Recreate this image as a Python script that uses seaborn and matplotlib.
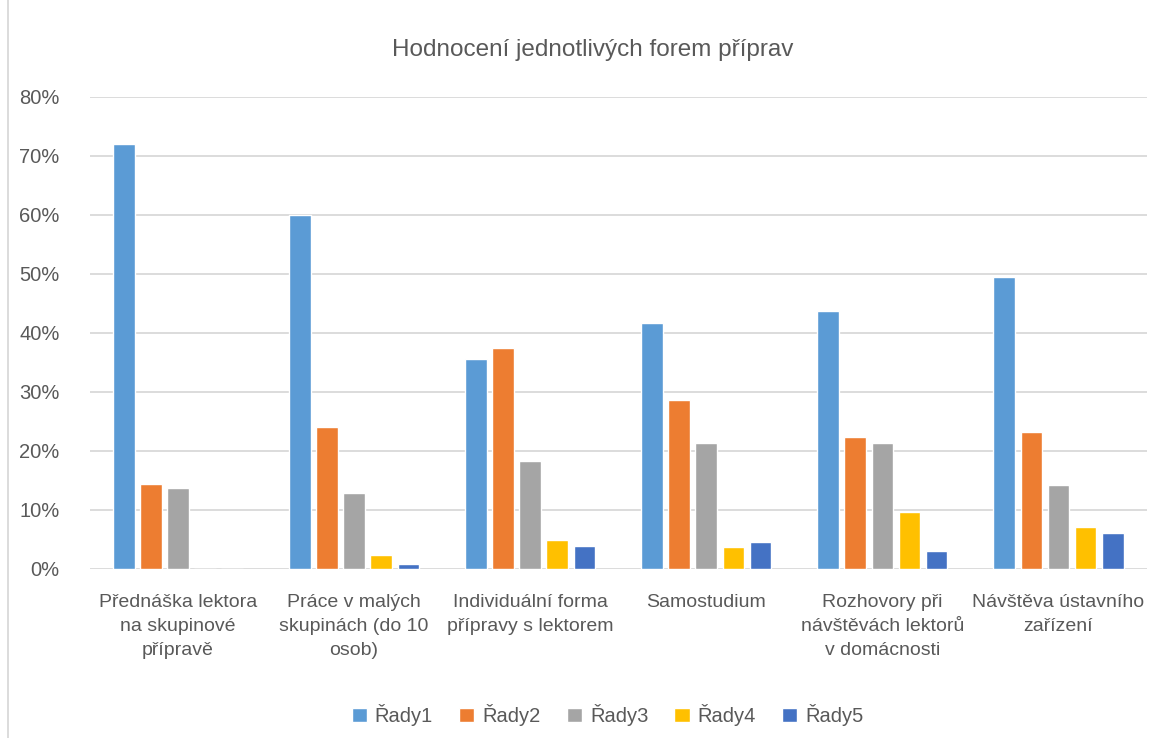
import matplotlib
matplotlib.use("Agg")
import matplotlib.pyplot as plt
from matplotlib.ticker import PercentFormatter
from matplotlib.patches import Rectangle
import pandas as pd
import seaborn as sns

categories = [
    "Přednáška lektora\nna skupinové\npřípravě",
    "Práce v malých\nskupinách (do 10\nosob)",
    "Individuální forma\npřípravy s lektorem",
    "Samostudium",
    "Rozhovory při\nnávštěvách lektorů\nv domácnosti",
    "Návštěva ústavního\nzařízení",
]
series_names = ["Řady1", "Řady2", "Řady3", "Řady4", "Řady5"]
rady1 = [0.720, 0.600, 0.356, 0.417, 0.437, 0.495]
rady2 = [0.144, 0.240, 0.375, 0.287, 0.224, 0.232]
rady3 = [0.137, 0.128, 0.183, 0.214, 0.214, 0.142]
rady4 = [0.0, 0.024, 0.049, 0.037, 0.097, 0.071]
rady5 = [0.0, 0.008, 0.039, 0.046, 0.030, 0.061]
colors = ["#5B9BD5", "#ED7D31", "#A5A5A5", "#FFC000", "#4472C4"]

rows = []
for name, vals in zip(series_names, [rady1, rady2, rady3, rady4, rady5]):
    for cat, v in zip(categories, vals):
        rows.append({"kategorie": cat, "rada": name, "hodnota": v})
df = pd.DataFrame(rows)

sns.set_theme(style="white")
plt.rcParams["font.family"] = ["Liberation Sans", "DejaVu Sans"]
text_col = "#595959"

fig = plt.figure(figsize=(11.64, 7.38), dpi=100)
ax = fig.add_axes([0.0773, 0.229, 0.9077, 0.6396])

sns.barplot(data=df, x="kategorie", y="hodnota", hue="rada", palette=colors,
            order=categories, hue_order=series_names, width=0.77, gap=0.2,
            saturation=1, ax=ax, legend=True)

ax.set_ylim(0, 0.8)
ax.set_yticks([i / 10 for i in range(9)])
ax.yaxis.set_major_formatter(PercentFormatter(1.0, decimals=0))
ax.grid(axis="y", color="#D9D9D9", linewidth=1.3)
ax.set_axisbelow(True)
for s in ax.spines.values():
    s.set_visible(False)
ax.set_xlabel("")
ax.set_ylabel("")
ax.tick_params(axis="y", length=0, pad=22, labelsize=14.5, labelcolor=text_col)
ax.tick_params(axis="x", length=0, pad=18, labelsize=14, labelcolor=text_col)
for lbl in ax.get_xticklabels():
    lbl.set_linespacing(1.55)

fig.text(0.5095, 0.932, "Hodnocení jednotlivých forem příprav", ha="center",
         va="center", fontsize=17.5, color=text_col)

ax.legend(loc="center", bbox_to_anchor=(0.522, 0.031), bbox_transform=fig.transFigure,
          ncol=5, frameon=False, fontsize=14.5, labelcolor=text_col,
          handlelength=0.75, handleheight=0.75, handletextpad=0.4, columnspacing=1.3)

fig.patches.append(Rectangle((0.007, -0.01), 1.0, 1.02, transform=fig.transFigure,
                             fill=False, edgecolor="#D9D9D9", linewidth=1.3))

fig.savefig("out.png", dpi=100)
